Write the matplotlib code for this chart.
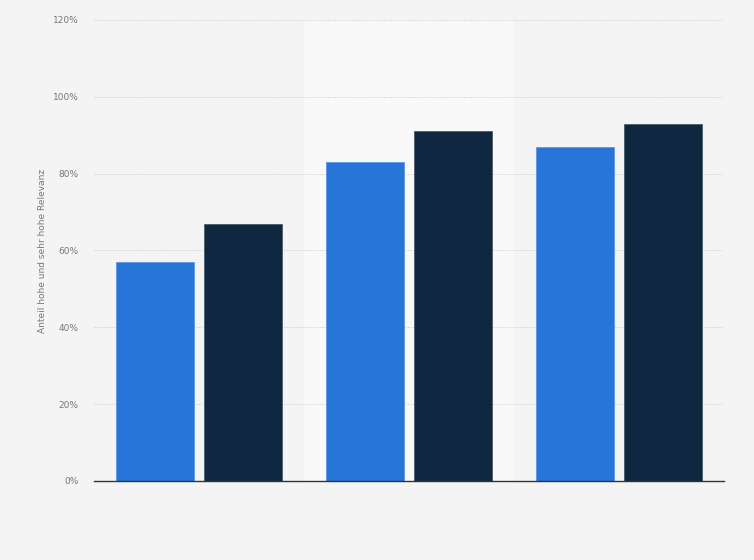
import matplotlib.pyplot as plt
import numpy as np

# values (percent)
groups = ['', '', '']
series_a = [57, 83, 87]
series_b = [67, 91, 93]
yticks = [0, 20, 40, 60, 80, 100, 120]
ylabels = ['0%', '20%', '40%', '60%', '80%', '100%', '120%']
ytitle = 'Anteil hohe und sehr hohe Relevanz'

bg = '#f4f4f4'
blue = '#2775d9'
navy = '#0f2740'

fig = plt.figure(figsize=(7.54, 5.6), dpi=100, facecolor=bg)
ax = fig.add_axes([0.1247, 0.1411, 0.8355, 0.8232])
ax.set_facecolor(bg)

x = np.arange(len(groups))
w = 0.372

# lighter band behind the middle group
ax.axvspan(0.5, 1.5, ymin=0, ymax=1, color='#f9f9f9', zorder=0, lw=0)

ax.bar(x - 0.21, series_a, w, color=blue, edgecolor='#5a98e8', linewidth=0.6, zorder=3)
ax.bar(x + 0.21, series_b, w, color=navy, edgecolor='#4b5a6a', linewidth=0.6, zorder=3)

ax.set_xlim(-0.5, 2.5)
ax.set_ylim(0, 120)
ax.set_yticks(yticks)
ax.set_yticklabels(ylabels, fontsize=6.5, color='#777777')
ax.set_xticks(x)
ax.set_xticklabels(groups)
ax.tick_params(axis='y', length=0, pad=11)
ax.tick_params(axis='x', length=0)
ax.grid(axis='y', color='#c8c8c8', linestyle=(0, (1, 1.5)), linewidth=0.7, zorder=1)

for s in ['top', 'right', 'left']:
    ax.spines[s].set_visible(False)
ax.spines['bottom'].set_color('#333333')
ax.spines['bottom'].set_linewidth(1.0)
ax.spines['bottom'].set_zorder(4)

ax.set_ylabel(ytitle, fontsize=6.5, color='#777777', labelpad=4)

plt.savefig('out.png', dpi=100, facecolor=bg)
